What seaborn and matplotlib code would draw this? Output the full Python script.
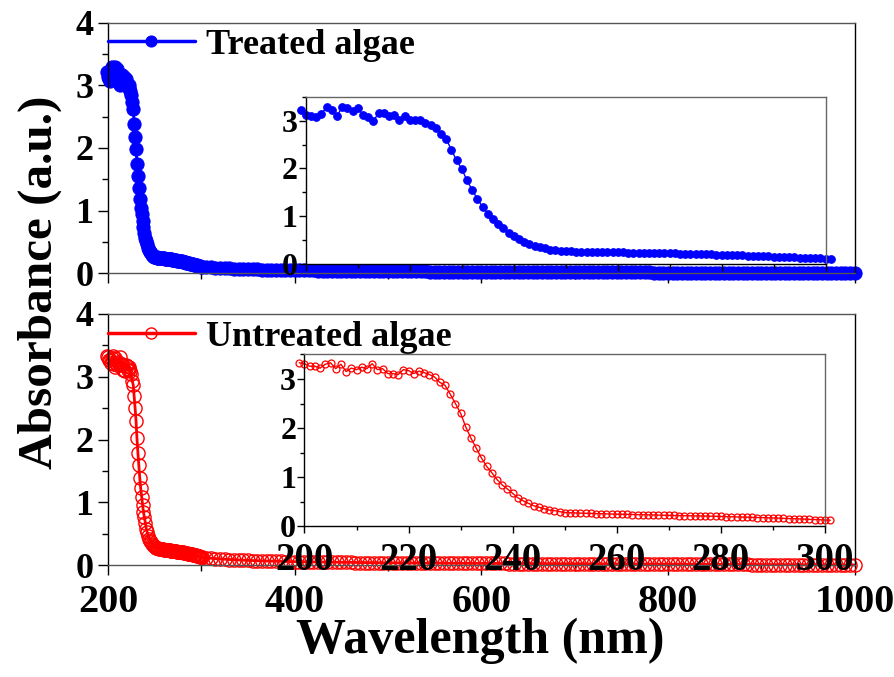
import numpy as np
import pandas as pd
import matplotlib
matplotlib.use("Agg")
import matplotlib.pyplot as plt
import seaborn as sns
from matplotlib.ticker import MultipleLocator

# fine scan 199-301 nm (1 nm step)
wl_fine = list(range(199, 302))
treated_fine = [
    3.22, 3.13, 3.10, 3.07, 3.15, 3.29, 3.22, 3.10, 3.29, 3.26,
    3.21, 3.26, 3.13, 3.07, 3.00, 3.16, 3.17, 3.10, 3.13, 3.01,
    3.10, 3.02, 3.01, 3.01, 2.96, 2.91, 2.85, 2.73, 2.62, 2.39,
    2.17, 1.99, 1.75, 1.55, 1.36, 1.19, 1.05, 0.94, 0.83, 0.74,
    0.65, 0.57, 0.51, 0.46, 0.41, 0.37, 0.34, 0.32, 0.29, 0.28,
    0.265, 0.26,
    0.257, 0.254, 0.251, 0.249, 0.247, 0.245, 0.243, 0.241, 0.239, 0.237,
    0.235, 0.233, 0.231, 0.229, 0.227, 0.225, 0.223, 0.221, 0.219, 0.216,
    0.213, 0.210, 0.207, 0.204, 0.201, 0.198, 0.195, 0.192, 0.189, 0.186,
    0.183, 0.179, 0.175, 0.171, 0.167, 0.163, 0.159, 0.155, 0.151, 0.147,
    0.143, 0.139, 0.135, 0.131, 0.127, 0.123, 0.119, 0.115, 0.111, 0.107, 0.103,
]
untreated_fine = [
    3.33, 3.31, 3.26, 3.26, 3.22, 3.30, 3.33, 3.21, 3.30, 3.15,
    3.22, 3.19, 3.24, 3.21, 3.31, 3.19, 3.21, 3.11, 3.11, 3.09,
    3.19, 3.17, 3.11, 3.16, 3.13, 3.09, 3.04, 2.93, 2.87, 2.69,
    2.50, 2.30, 2.02, 1.79, 1.59, 1.39, 1.22, 1.09, 0.95, 0.84,
    0.76, 0.67, 0.58, 0.52, 0.47, 0.42, 0.39, 0.36, 0.33, 0.32,
    0.30, 0.28,
    0.276, 0.272, 0.268, 0.265, 0.262, 0.259, 0.256, 0.253, 0.250, 0.247,
    0.245, 0.243, 0.240, 0.238, 0.235, 0.233, 0.230, 0.228, 0.225, 0.222,
    0.220, 0.218, 0.216, 0.214, 0.212, 0.210, 0.208, 0.206, 0.204, 0.200,
    0.197, 0.194, 0.191, 0.188, 0.185, 0.182, 0.179, 0.176, 0.173, 0.170,
    0.166, 0.162, 0.158, 0.154, 0.150, 0.146, 0.142, 0.138, 0.134, 0.128, 0.122,
]

# rest of the scan 305-1000 nm (5 nm step)
wl_tail = list(range(305, 1001, 5))
treated_tail = [
    0.100, 0.094, 0.089, 0.085, 0.081, 0.077, 0.074, 0.071, 0.068, 0.066,
    0.063, 0.061, 0.059, 0.057, 0.056, 0.054, 0.053, 0.051, 0.050, 0.049,
    0.048, 0.047, 0.046, 0.045, 0.044, 0.043, 0.042, 0.041, 0.040, 0.040,
    0.039, 0.038, 0.037, 0.037, 0.036, 0.035, 0.035, 0.034, 0.033, 0.033,
    0.032, 0.032, 0.031, 0.031, 0.030, 0.030, 0.029, 0.029, 0.028, 0.028,
    0.027, 0.027, 0.026, 0.026, 0.026, 0.025, 0.025, 0.024, 0.024, 0.024,
    0.023, 0.023, 0.023, 0.022, 0.022, 0.022, 0.021, 0.021, 0.021, 0.020,
    0.020, 0.020, 0.019, 0.019, 0.019, 0.018, 0.018, 0.018, 0.018, 0.017,
    0.017, 0.017, 0.016, 0.016, 0.016, 0.016, 0.015, 0.015, 0.015, 0.014,
    0.014, 0.014, 0.014, 0.013, 0.013, 0.013, 0.012, 0.012, 0.012, 0.012,
    0.011, 0.011, 0.011, 0.010, 0.010, 0.010, 0.009, 0.009, 0.009, 0.008,
    0.008, 0.008, 0.007, 0.007, 0.007, 0.006, 0.006, 0.006, 0.005, 0.005,
    0.005, 0.004, 0.004, 0.004, 0.003, 0.003, 0.003, 0.002, 0.002, 0.002,
    0.001, 0.001, 0.001, 0.000, 0.000, 0.000, -0.001, -0.001, -0.001, -0.002,
]
untreated_tail = [
    0.115, 0.108, 0.102, 0.097, 0.092, 0.088, 0.084, 0.080, 0.077, 0.074,
    0.071, 0.068, 0.066, 0.064, 0.062, 0.060, 0.058, 0.056, 0.055, 0.053,
    0.052, 0.051, 0.050, 0.048, 0.047, 0.046, 0.045, 0.044, 0.043, 0.042,
    0.042, 0.041, 0.040, 0.039, 0.039, 0.038, 0.037, 0.037, 0.036, 0.035,
    0.035, 0.034, 0.034, 0.033, 0.033, 0.032, 0.032, 0.031, 0.031, 0.030,
    0.030, 0.029, 0.029, 0.029, 0.028, 0.028, 0.027, 0.027, 0.027, 0.026,
    0.026, 0.026, 0.025, 0.025, 0.025, 0.024, 0.024, 0.024, 0.023, 0.023,
    0.023, 0.022, 0.022, 0.022, 0.021, 0.021, 0.021, 0.021, 0.020, 0.020,
    0.020, 0.019, 0.019, 0.019, 0.019, 0.018, 0.018, 0.018, 0.017, 0.017,
    0.017, 0.017, 0.016, 0.016, 0.016, 0.015, 0.015, 0.015, 0.015, 0.014,
    0.014, 0.014, 0.013, 0.013, 0.013, 0.012, 0.012, 0.012, 0.011, 0.011,
    0.011, 0.010, 0.010, 0.010, 0.009, 0.009, 0.009, 0.008, 0.008, 0.008,
    0.007, 0.007, 0.007, 0.006, 0.006, 0.006, 0.005, 0.005, 0.005, 0.004,
    0.004, 0.004, 0.003, 0.003, 0.003, 0.002, 0.002, 0.002, 0.001, 0.001,
]

df_fine = pd.DataFrame({"wl": wl_fine, "treated": treated_fine, "untreated": untreated_fine})
df_tail = pd.DataFrame({"wl": wl_tail, "treated": treated_tail, "untreated": untreated_tail})
df_all = pd.concat([df_fine, df_tail], ignore_index=True)

sns.set_style("ticks")
plt.rcParams["font.family"] = ["Liberation Serif", "DejaVu Serif"]
plt.rcParams["font.weight"] = "bold"
plt.rcParams["axes.linewidth"] = 1.0
for key in ("text.color", "axes.labelcolor", "xtick.color", "ytick.color", "axes.edgecolor"):
    plt.rcParams[key] = "black"

fig = plt.figure(figsize=(8.95, 6.77), dpi=100)

ax_top = fig.add_axes([0.1207, 0.5963, 0.8343, 0.3702])
ax_bot = fig.add_axes([0.1207, 0.1654, 0.8343, 0.3708])
in_top = fig.add_axes([0.3417, 0.6106, 0.5808, 0.2461])
in_bot = fig.add_axes([0.3402, 0.2226, 0.5816, 0.2539])

blue = "#0000ff"
red = "#ff0000"

sns.lineplot(data=df_all, x="wl", y="treated", ax=ax_top, color=blue, lw=2,
             marker="o", markersize=9.5, mec=blue, mfc=blue, clip_on=False,
             label="Treated algae")
sns.lineplot(data=df_all, x="wl", y="untreated", ax=ax_bot, color=red, lw=2,
             marker="o", markersize=9.5, mec=red, mfc="none", mew=1.0, clip_on=False,
             label="Untreated algae")
sns.lineplot(data=df_fine, x="wl", y="treated", ax=in_top, color=blue, lw=1,
             marker="o", markersize=5.5, mec=blue, mfc=blue, clip_on=False)
sns.lineplot(data=df_fine, x="wl", y="untreated", ax=in_bot, color=red, lw=1,
             marker="o", markersize=5, mec=red, mfc="none", mew=0.9, clip_on=False)

for ax in (ax_top, ax_bot):
    ax.set_xlim(200, 1000)
    ax.set_ylim(0, 4)
    ax.xaxis.set_major_locator(MultipleLocator(200))
    ax.xaxis.set_minor_locator(MultipleLocator(100))
    ax.yaxis.set_major_locator(MultipleLocator(1))
    ax.yaxis.set_minor_locator(MultipleLocator(0.5))
    ax.tick_params(axis="both", which="major", direction="out", length=7.5, width=1)
    ax.tick_params(axis="both", which="minor", direction="out", length=4, width=1)
    ax.tick_params(axis="y", labelsize=26, pad=3)
    ax.tick_params(axis="x", labelsize=29, pad=6)
    ax.set_xlabel("")
    ax.set_ylabel("")
    for s in ("top", "bottom"):
        ax.spines[s].set_color("#555555")
    for s in ax.spines.values():
        s.set_visible(True)
    ax.set_facecolor("none")

ax_top.tick_params(axis="x", labelbottom=False)

for ax in (in_top, in_bot):
    ax.set_xlim(200, 300)
    ax.set_ylim(0, 3.5)
    ax.xaxis.set_major_locator(MultipleLocator(20))
    ax.xaxis.set_minor_locator(MultipleLocator(10))
    ax.yaxis.set_major_locator(MultipleLocator(1))
    ax.yaxis.set_minor_locator(MultipleLocator(0.5))
    ax.tick_params(axis="both", which="major", direction="out", length=5, width=1)
    ax.tick_params(axis="both", which="minor", direction="out", length=3, width=1)
    ax.tick_params(axis="y", labelsize=23, pad=1)
    ax.tick_params(axis="x", labelsize=28, pad=6)
    ax.set_xlabel("")
    ax.set_ylabel("")
    for s in ("top", "right"):
        ax.spines[s].set_color("#666666")
    for s in ax.spines.values():
        s.set_visible(True)
    ax.set_facecolor("white")

in_top.tick_params(axis="x", labelbottom=False)

for ax, ypos in ((ax_top, 0.911), (ax_bot, 0.908)):
    leg = ax.legend(loc="center left", bbox_to_anchor=(0.0, ypos), frameon=False,
                    borderpad=0, borderaxespad=0, handlelength=2.4, handletextpad=0.3,
                    prop={"size": 26, "weight": "bold"})
    for h in leg.get_lines():
        h.set_linewidth(2.5)
        h.set_markersize(8)

fig.text(0.045, 0.583, "Absorbance (a.u.)", rotation=90, ha="center", va="center",
         fontsize=35.5, fontweight="bold")
fig.text(0.537, 0.054, "Wavelength (nm)", ha="center", va="center",
         fontsize=36, fontweight="bold")

fig.savefig("out.png", dpi=100)
